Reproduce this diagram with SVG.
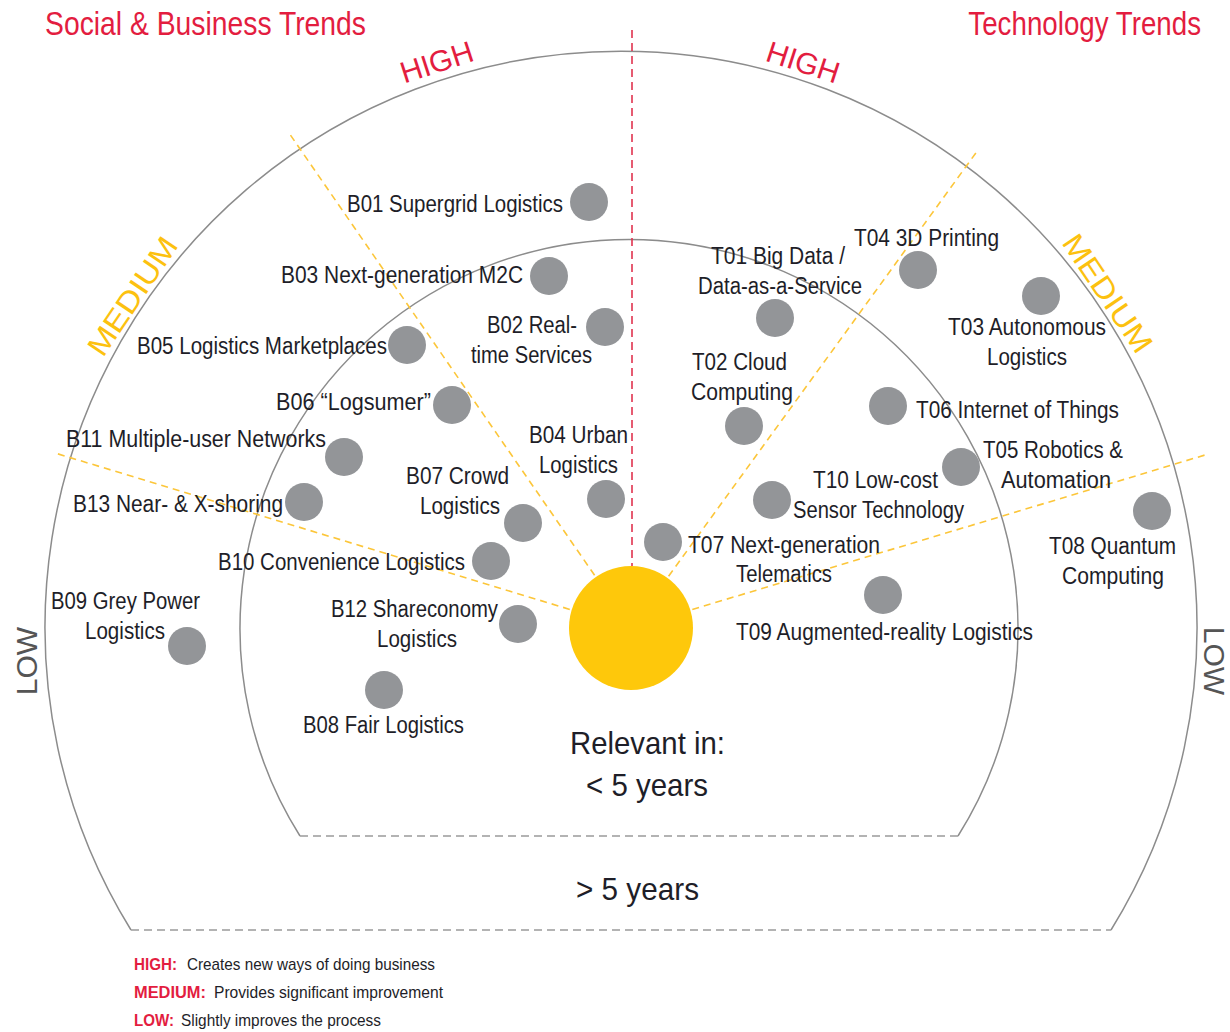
<svg xmlns="http://www.w3.org/2000/svg" width="1230" height="1032" viewBox="0 0 1230 1032">
<style>
.lbl{font-family:"Liberation Sans Narrow","Liberation Sans",Arial,sans-serif;font-size:23px;fill:#1e1e28}
.big{font-family:"Liberation Sans Narrow","Liberation Sans",Arial,sans-serif;font-size:32px;fill:#1e1e28}
.title{font-family:"Liberation Sans Narrow","Liberation Sans",Arial,sans-serif;font-size:33px;fill:#e31d3f}
.high{font-family:"Liberation Sans",Arial,sans-serif;font-size:30px;fill:#e31d3f}
.med{font-family:"Liberation Sans",Arial,sans-serif;font-size:30px;fill:#fcc10f}
.low{font-family:"Liberation Sans",Arial,sans-serif;font-size:30px;fill:#555}
.leg{font-family:"Liberation Sans Narrow","Liberation Sans",Arial,sans-serif;font-size:17px;fill:#1e1e28}
.legk{font-family:"Liberation Sans Narrow","Liberation Sans",Arial,sans-serif;font-size:17px;font-weight:bold;fill:#e31d3f}
.dot{fill:#939598}
.arc{fill:none;stroke:#8c8c8c;stroke-width:1.5}
.base{fill:none;stroke:#9a9a9a;stroke-width:1.5;stroke-dasharray:8 5}
.ray{fill:none;stroke:#fcc63a;stroke-width:1.6;stroke-dasharray:7 5}
.axis{fill:none;stroke:#e0334f;stroke-width:1.6;stroke-dasharray:8 5}
</style>
<rect width="1230" height="1032" fill="#fff"/>

<g id="frame">
<path class="arc" d="M131,930 A576,576 0 1 1 1111,930"/>
<path class="arc" d="M300,836 A389,389 0 1 1 958,836"/>
<path class="base" d="M131,930 H1111"/>
<path class="base" d="M300,836 H958"/>
</g>

<g id="connectors">
<path class="axis" d="M632,30 V566"/>
<path class="ray" d="M594.6,575.3 L289,133"/>
<path class="ray" d="M569.8,609.4 L55,453"/>
<path class="ray" d="M668.6,576.2 L978,150"/>
<path class="ray" d="M692.3,609.5 L1205,455"/>
</g>

<g id="titles">
<text class="title" x="45" y="35" textLength="321" lengthAdjust="spacingAndGlyphs">Social &amp; Business Trends</text>
<text class="title" text-anchor="end" transform="translate(1201,35) scale(0.84,1)">Technology Trends</text>
<text class="high" text-anchor="middle" transform="translate(440,72) rotate(-18)">HIGH</text>
<text class="high" text-anchor="middle" transform="translate(800,72) rotate(18)">HIGH</text>
<text class="med" text-anchor="middle" transform="translate(141,302) rotate(-56)" textLength="136" lengthAdjust="spacingAndGlyphs">MEDIUM</text>
<text class="med" text-anchor="middle" transform="translate(1099,299) rotate(56)" textLength="136" lengthAdjust="spacingAndGlyphs">MEDIUM</text>
<text class="low" text-anchor="middle" transform="translate(37,661) rotate(-90)">LOW</text>
<text class="low" text-anchor="middle" transform="translate(1204,661) rotate(90)">LOW</text>
</g>

<g id="sun">
<circle cx="631" cy="628" r="62" fill="#fec80b"/>
<text class="big" x="570" y="754" textLength="155" lengthAdjust="spacingAndGlyphs">Relevant in:</text>
<text class="big" x="586" y="796" textLength="122" lengthAdjust="spacingAndGlyphs">&lt; 5 years</text>
<text class="big" x="576" y="900" textLength="123" lengthAdjust="spacingAndGlyphs">&gt; 5 years</text>
</g>

<g id="B01"><circle class="dot" cx="589" cy="202" r="19"/><text class="lbl" x="347" y="212" textLength="216" lengthAdjust="spacingAndGlyphs">B01 Supergrid Logistics</text></g>
<g id="B03"><circle class="dot" cx="549" cy="276" r="19"/><text class="lbl" x="281" y="283" textLength="242" lengthAdjust="spacingAndGlyphs">B03 Next-generation M2C</text></g>
<g id="B02"><circle class="dot" cx="605" cy="327" r="19"/><text class="lbl" x="487" y="333" textLength="90" lengthAdjust="spacingAndGlyphs">B02 Real-</text><text class="lbl" x="471" y="363" textLength="121" lengthAdjust="spacingAndGlyphs">time Services</text></g>
<g id="B05"><circle class="dot" cx="407" cy="345" r="19"/><text class="lbl" x="137" y="354" textLength="250" lengthAdjust="spacingAndGlyphs">B05 Logistics Marketplaces</text></g>
<g id="B06"><circle class="dot" cx="452" cy="405" r="19"/><text class="lbl" x="276" y="410" textLength="155" lengthAdjust="spacingAndGlyphs">B06 “Logsumer”</text></g>
<g id="B11"><circle class="dot" cx="344" cy="457" r="19"/><text class="lbl" x="66" y="447" textLength="260" lengthAdjust="spacingAndGlyphs">B11 Multiple-user Networks</text></g>
<g id="B04"><circle class="dot" cx="606" cy="499" r="19"/><text class="lbl" x="529" y="443" textLength="99" lengthAdjust="spacingAndGlyphs">B04 Urban</text><text class="lbl" x="539" y="473" textLength="79" lengthAdjust="spacingAndGlyphs">Logistics</text></g>
<g id="B07"><circle class="dot" cx="523" cy="523" r="19"/><text class="lbl" x="406" y="484" textLength="103" lengthAdjust="spacingAndGlyphs">B07 Crowd</text><text class="lbl" x="420" y="514" textLength="80" lengthAdjust="spacingAndGlyphs">Logistics</text></g>
<g id="B13"><circle class="dot" cx="304" cy="502" r="19"/><text class="lbl" x="73" y="512" textLength="210" lengthAdjust="spacingAndGlyphs">B13 Near- &amp; X-shoring</text></g>
<g id="B10"><circle class="dot" cx="491" cy="561" r="19"/><text class="lbl" x="218" y="570" textLength="247" lengthAdjust="spacingAndGlyphs">B10 Convenience Logistics</text></g>
<g id="B09"><circle class="dot" cx="187" cy="646" r="19"/><text class="lbl" x="51" y="609" textLength="149" lengthAdjust="spacingAndGlyphs">B09 Grey Power</text><text class="lbl" x="85" y="639" textLength="80" lengthAdjust="spacingAndGlyphs">Logistics</text></g>
<g id="B12"><circle class="dot" cx="518" cy="624" r="19"/><text class="lbl" x="331" y="617" textLength="167" lengthAdjust="spacingAndGlyphs">B12 Shareconomy</text><text class="lbl" x="377" y="647" textLength="80" lengthAdjust="spacingAndGlyphs">Logistics</text></g>
<g id="B08"><circle class="dot" cx="384" cy="690" r="19"/><text class="lbl" x="303" y="733" textLength="161" lengthAdjust="spacingAndGlyphs">B08 Fair Logistics</text></g>

<g id="T04"><circle class="dot" cx="918" cy="270" r="19"/><text class="lbl" x="854" y="246" textLength="145" lengthAdjust="spacingAndGlyphs">T04 3D Printing</text></g>
<g id="T01"><circle class="dot" cx="775" cy="318" r="19"/><text class="lbl" x="711" y="264" textLength="134" lengthAdjust="spacingAndGlyphs">T01 Big Data /</text><text class="lbl" x="698" y="294" textLength="164" lengthAdjust="spacingAndGlyphs">Data-as-a-Service</text></g>
<g id="T03"><circle class="dot" cx="1041" cy="296" r="19"/><text class="lbl" x="948" y="335" textLength="158" lengthAdjust="spacingAndGlyphs">T03 Autonomous</text><text class="lbl" x="987" y="365" textLength="80" lengthAdjust="spacingAndGlyphs">Logistics</text></g>
<g id="T02"><circle class="dot" cx="744" cy="426" r="19"/><text class="lbl" x="692" y="370" textLength="95" lengthAdjust="spacingAndGlyphs">T02 Cloud</text><text class="lbl" x="691" y="400" textLength="102" lengthAdjust="spacingAndGlyphs">Computing</text></g>
<g id="T06"><circle class="dot" cx="888" cy="406" r="19"/><text class="lbl" x="916" y="418" textLength="203" lengthAdjust="spacingAndGlyphs">T06 Internet of Things</text></g>
<g id="T05"><circle class="dot" cx="961" cy="467" r="19"/><text class="lbl" x="983" y="458" textLength="140" lengthAdjust="spacingAndGlyphs">T05 Robotics &amp;</text><text class="lbl" x="1001" y="488" textLength="110" lengthAdjust="spacingAndGlyphs">Automation</text></g>
<g id="T10"><circle class="dot" cx="772" cy="500" r="19"/><text class="lbl" x="813" y="488" textLength="125" lengthAdjust="spacingAndGlyphs">T10 Low-cost</text><text class="lbl" x="793" y="518" textLength="171" lengthAdjust="spacingAndGlyphs">Sensor Technology</text></g>
<g id="T08"><circle class="dot" cx="1152" cy="511" r="19"/><text class="lbl" x="1049" y="554" textLength="127" lengthAdjust="spacingAndGlyphs">T08 Quantum</text><text class="lbl" x="1062" y="584" textLength="102" lengthAdjust="spacingAndGlyphs">Computing</text></g>
<g id="T07"><circle class="dot" cx="663" cy="542" r="19"/><text class="lbl" x="688" y="553" textLength="192" lengthAdjust="spacingAndGlyphs">T07 Next-generation</text><text class="lbl" x="736" y="582" textLength="96" lengthAdjust="spacingAndGlyphs">Telematics</text></g>
<g id="T09"><circle class="dot" cx="883" cy="595" r="19"/><text class="lbl" x="736" y="640" textLength="297" lengthAdjust="spacingAndGlyphs">T09 Augmented-reality Logistics</text></g>

<g id="legend">
<text class="legk" x="134" y="970" textLength="43" lengthAdjust="spacingAndGlyphs">HIGH:</text><text class="leg" x="187" y="970" textLength="248" lengthAdjust="spacingAndGlyphs">Creates new ways of doing business</text>
<text class="legk" x="134" y="998" textLength="72" lengthAdjust="spacingAndGlyphs">MEDIUM:</text><text class="leg" x="214" y="998" textLength="229" lengthAdjust="spacingAndGlyphs">Provides significant improvement</text>
<text class="legk" x="134" y="1026" textLength="40" lengthAdjust="spacingAndGlyphs">LOW:</text><text class="leg" x="181" y="1026" textLength="200" lengthAdjust="spacingAndGlyphs">Slightly improves the process</text>
</g>
</svg>
